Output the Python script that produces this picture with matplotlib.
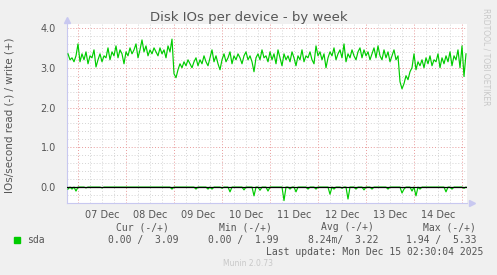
import numpy as np
import matplotlib.pyplot as plt

# hours since 07 Dec 00:00, one sample per hour
hours = np.arange(-5, 195)

write = [3.35, 3.20, 3.25, 3.15, 3.30, 3.60, 3.15, 3.35, 3.20, 3.40,
         3.10, 3.30, 3.25, 3.45, 3.02, 3.20, 3.35, 3.15, 3.30, 3.25,
         3.50, 3.20, 3.40, 3.30, 3.55, 3.25, 3.45, 3.35, 3.10, 3.40,
         3.30, 3.50, 3.35, 3.45, 3.60, 3.25, 3.45, 3.70, 3.40, 3.55,
         3.30, 3.45, 3.35, 3.50, 3.40, 3.30, 3.50, 3.35, 3.45, 3.25,
         3.55, 3.40, 3.72, 2.85, 2.75, 2.95, 3.10, 3.00, 3.15, 3.05,
         3.20, 3.10, 3.00, 3.15, 3.25, 3.05, 3.20, 3.10, 3.30, 3.15,
         3.05, 3.25, 3.45, 3.15, 3.30, 3.10, 2.95, 3.20, 3.35, 3.15,
         3.25, 3.40, 3.10, 3.30, 3.20, 3.35, 3.25, 3.10, 3.30, 3.40,
         3.20, 3.30, 3.15, 2.90, 3.25, 3.35, 3.20, 3.45, 3.25, 3.30,
         3.15, 3.40, 3.20, 3.35, 3.10, 3.45, 3.25, 3.05, 3.35, 3.20,
         3.30, 3.15, 3.40, 3.25, 3.05, 3.30, 3.20, 3.45, 3.15, 3.30,
         3.25, 3.40, 3.20, 3.10, 3.55, 3.30, 3.40, 3.20, 3.35, 3.00,
         3.25, 3.40, 3.30, 3.50, 3.20, 3.35, 3.45, 3.25, 3.60, 3.15,
         3.35, 3.25, 3.45, 3.30, 3.20, 3.40, 3.50, 3.25, 3.45, 3.30,
         3.40, 3.20, 3.35, 3.50, 3.25, 3.55, 3.30, 3.20, 3.45, 3.25,
         3.40, 3.15, 3.30, 3.45, 3.20, 3.30, 2.65, 2.47, 2.60, 2.80,
         2.70, 2.90, 3.00, 3.35, 2.95, 3.15, 3.05, 3.20, 3.00, 3.25,
         3.10, 3.30, 3.05, 3.20, 3.15, 3.35, 3.00, 3.25, 3.10, 3.30,
         3.15, 3.40, 3.05, 3.30, 3.20, 3.45, 3.00, 3.55, 2.78, 3.35]

# read spikes (negative side), hour -> value
read_hours = [-5, -3, -1, 4, 12, 47, 59, 65, 67, 72, 76, 83, 88, 91,
              95, 103, 106, 109, 115, 119, 126, 128, 132, 135, 139,
              143, 147, 155, 162, 163, 167, 169, 171, 184, 187, 193]
read_vals = [-0.05, -0.05, -0.10, -0.02, -0.02, -0.05, -0.05, -0.05,
             -0.05, -0.03, -0.12, -0.07, -0.22, -0.08, -0.10, -0.34,
             -0.05, -0.12, -0.05, -0.05, -0.18, -0.05, -0.03, -0.30,
             -0.05, -0.07, -0.05, -0.05, -0.15, -0.05, -0.10, -0.22,
             -0.05, -0.12, -0.05, -0.03]

day_labels = ["07 Dec", "08 Dec", "09 Dec", "10 Dec",
              "11 Dec", "12 Dec", "13 Dec", "14 Dec"]
label_hours = [12 + 24 * i for i in range(len(day_labels))]

read = np.zeros(len(hours))
for h, v in zip(read_hours, read_vals):
    read[hours == h] = v

W, H = 497, 275
fig = plt.figure(figsize=(W / 100, H / 100), dpi=100, facecolor='#F0F0F0')
ax = fig.add_axes([67 / W, 72 / H, 400 / W, 179 / H])
ax.set_facecolor('white')
ax.set_xlim(-5.5, 194.5)
ax.set_ylim(-0.4, 4.1)

# grid, munin style
for y in np.arange(-0.4, 4.05, 0.2):
    if abs(y - round(y)) < 1e-6:
        continue
    ax.axhline(y, color='#d4d4d4', lw=0.7, ls=(0, (1, 2)), zorder=1)
for y in [1, 2, 3, 4]:
    ax.axhline(y, color='#e89a9a', lw=0.7, ls=(0, (1, 2)), zorder=1)
for h in range(0, 195, 6):
    if h % 24 == 0:
        ax.axvline(h, color='#e89a9a', lw=0.7, ls=(0, (1, 2)), zorder=1)
    else:
        ax.axvline(h, color='#d4d4d4', lw=0.7, ls=(0, (1, 2)), zorder=1)

ax.plot(hours, write, color='#00CC00', lw=0.85, zorder=3)
ax.plot(hours, read, color='#00CC00', lw=0.85, zorder=3)
ax.axhline(0, color='black', lw=0.9, zorder=4)

for s in ['top', 'right']:
    ax.spines[s].set_visible(False)
for s in ['left', 'bottom']:
    ax.spines[s].set_color('#c8c8f0')
    ax.spines[s].set_linewidth(0.8)
ax.plot([0], [1.02], marker='^', color='#c8c8f0', ms=4, transform=ax.transAxes, clip_on=False)
ax.plot([1.012], [0], marker='>', color='#c8c8f0', ms=4, transform=ax.transAxes, clip_on=False)

ax.set_yticks([0, 1, 2, 3, 4])
ax.set_yticklabels(['0.0', '1.0', '2.0', '3.0', '4.0'])
ax.set_xticks(label_hours)
ax.set_xticklabels(day_labels)
ax.tick_params(length=0, labelsize=7, colors='#555555', pad=5)
ax.tick_params(axis='y', pad=8)

fig.text(0.5, 1 - 17 / H, 'Disk IOs per device - by week', ha='center', va='center',
         fontsize=9.5, color='#555555')
fig.text(10 / W, 1 - 115 / H, 'IOs/second read (-) / write (+)', rotation=90,
         ha='center', va='center', fontsize=7.5, color='#555555')
fig.text(486 / W, 1 - 8 / H, 'RRDTOOL / TOBI OETIKER', rotation=270, ha='center', va='top',
         fontsize=5.5, color='#c8c8c8')

mono = dict(family='DejaVu Sans Mono', fontsize=7, color='#555555', va='center')
fig.patches.append(plt.Rectangle((14 / W, 1 - 243 / H), 6 / W, 6 / H,
                                 transform=fig.transFigure, color='#00CC00'))
fig.text(27 / W, 1 - 240 / H, 'sda', **mono)
heads = ['Cur (-/+)', 'Min (-/+)', 'Avg (-/+)', 'Max (-/+)']
cur = '0.00 /  3.09'
mins = '0.00 /  1.99'
avg = '8.24m/  3.22'
mx = '1.94 /  5.33'
for x, hd in zip([169, 272, 374, 476], heads):
    fig.text(x / W, 1 - 227 / H, hd, ha='right', **mono)
for x, v in zip([179, 279, 378, 477], [cur, mins, avg, mx]):
    fig.text(x / W, 1 - 240 / H, v, ha='right', **mono)
fig.text(483 / W, 1 - 252 / H, 'Last update: Mon Dec 15 02:30:04 2025', ha='right', **mono)
fig.text(248 / W, 1 - 263 / H, 'Munin 2.0.73', ha='center', va='center',
         fontsize=5.5, color='#c8c8c8')

fig.savefig('out.png', dpi=100, facecolor=fig.get_facecolor())
